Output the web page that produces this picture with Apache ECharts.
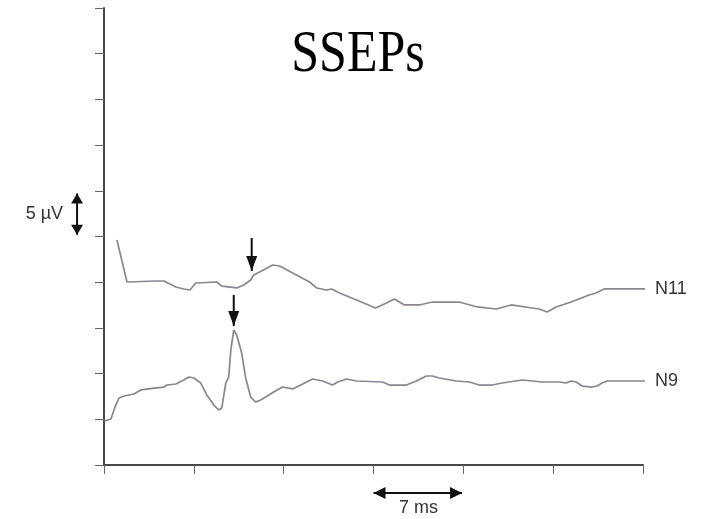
<!DOCTYPE html>
<html><head><meta charset="utf-8">
<script src="https://cdn.jsdelivr.net/npm/echarts@6/dist/echarts.min.js"></script>
<style>html,body{margin:0;padding:0;background:#fff}#c{width:706px;height:519px}</style>
</head><body><div id="c"></div>
<script>
const chartTitle = 'SSEPs';
const seriesNames = ['N11', 'N9'];
const xTickStep = 7;   // ms per tick
const yTickStep = 5;   // µV per tick
const xMax = 42;
const yMax = 50;

// N11 trace [ms, µV]
const n11 = [
  [1.01,24.62],[1.79,20.02],[4.04,20.13],[4.67,20.13],[5.60,19.48],[6.22,19.26],[6.69,19.15],
  [7.16,19.91],[8.79,20.02],[9.18,19.58],[10.34,19.37],[10.89,19.69],[11.43,20.24],[11.67,20.79],
  [12.13,21.12],[13.14,21.88],[13.69,21.77],[14.70,21.01],[16.02,20.02],[16.57,19.37],[17.34,19.15],
  [17.73,19.26],[18.36,18.82],[19.68,18.05],[21.16,17.18],[22.01,17.72],[22.63,18.16],[23.41,17.51],
  [24.58,17.51],[25.59,17.83],[27.69,17.83],[29.09,17.29],[30.57,17.07],[31.73,17.51],[33.37,17.18],
  [33.91,17.07],[34.53,16.74],[35.23,17.29],[36.40,17.83],[37.80,18.60],[38.34,18.82],[38.97,19.26],
  [42.31,19.26]
];
// N9 trace [ms, µV]
const n9 = [
  [0.04,4.82],[0.54,5.03],[0.86,6.35],[1.17,7.33],[1.56,7.55],[2.33,7.77],[2.88,8.21],[3.89,8.42],
  [4.67,8.53],[4.90,8.75],[5.60,8.86],[6.22,9.30],[6.61,9.63],[7.00,9.52],[7.54,8.97],[8.01,7.66],
  [8.56,6.56],[8.94,6.02],[9.18,6.24],[9.49,8.97],[9.72,9.63],[9.88,12.58],[10.11,14.77],[10.34,14.22],
  [10.73,12.25],[11.04,9.52],[11.43,7.44],[11.82,6.89],[12.21,7.11],[13.22,7.99],[13.92,8.53],
  [14.70,8.32],[15.48,8.86],[16.26,9.41],[17.03,9.19],[17.81,8.75],[18.20,9.08],[18.90,9.41],
  [19.68,9.19],[21.70,9.08],[22.24,8.75],[23.57,8.75],[24.34,9.19],[25.12,9.74],[25.59,9.74],
  [26.13,9.52],[27.46,9.19],[28.47,9.08],[29.24,8.75],[30.26,8.75],[31.03,8.97],[32.59,9.30],
  [33.37,9.19],[34.14,9.08],[35.47,9.08],[36.01,8.97],[36.40,9.19],[36.79,9.08],[37.26,8.64],
  [38.03,8.53],[38.42,8.64],[38.81,8.97],[39.20,9.19],[42.31,9.19]
];
// peak markers [ms, from µV, to µV]
const peakArrows = [[11.51, 24.84, 21.23], [10.11, 18.6, 15.21]];
const scaleLabels = ['5 µV', '7 ms'];

const chart = echarts.init(document.getElementById('c'), null, {renderer: 'canvas'});
const axisCommon = {
  type: 'value',
  axisLine: {show: true, onZero: false, lineStyle: {color: '#484848', width: 2}},
  axisTick: {show: true, length: 9, lineStyle: {color: '#666', width: 1}},
  axisLabel: {show: false},
  splitLine: {show: false}
};
const lineCommon = {
  type: 'line', showSymbol: false, clip: false, animation: false,
  lineStyle: {color: '#8a8590', width: 1.7},
  endLabel: {show: true, formatter: '{a}', distance: 10, fontSize: 18,
    fontFamily: 'Liberation Sans', color: '#333'}
};
chart.setOption({
  animation: false,
  grid: {left: 104, right: 63, top: 8, bottom: 54},
  xAxis: Object.assign({}, axisCommon, {min: 0, max: xMax, interval: xTickStep}),
  yAxis: Object.assign({}, axisCommon, {min: 0, max: yMax, interval: yTickStep}),
  series: [
    Object.assign({}, lineCommon, {name: seriesNames[0], data: n11}),
    Object.assign({}, lineCommon, {name: seriesNames[1], data: n9})
  ]
});

const P = (x, y) => chart.convertToPixel({gridIndex: 0}, [x, y]);
function head(tip, from, len, w) {
  const dx = tip[0] - from[0], dy = tip[1] - from[1];
  const L = Math.hypot(dx, dy), ux = dx / L, uy = dy / L;
  const bx = tip[0] - ux * len, by = tip[1] - uy * len;
  return {type: 'polygon', shape: {points: [tip, [bx - uy * w / 2, by + ux * w / 2], [bx + uy * w / 2, by - ux * w / 2]]},
    style: {fill: '#111'}, silent: true};
}
function arrow(a, b, len, w, both) {
  const els = [{type: 'line', shape: {x1: a[0], y1: a[1], x2: b[0], y2: b[1]}, style: {stroke: '#111', lineWidth: 2}, silent: true}];
  els.push(head(b, a, len, w));
  if (both) els.push(head(a, b, len, w));
  return els;
}
let g = [];
peakArrows.forEach(p => { g = g.concat(arrow(P(p[0], p[1]), P(p[0], p[2]), 15, 11, false)); });
const v1 = P(-2.1, 29.7), v2 = P(-2.1, 25.2);
g = g.concat(arrow(v1, v2, 10, 12, true));
const h1 = P(21.0, -3.06), h2 = P(27.9, -3.06);
g = g.concat(arrow(h1, h2, 12, 12, true));
g.push({type: 'text', x: v1[0] - 14, y: (v1[1] + v2[1]) / 2,
  style: {text: scaleLabels[0], font: '18px "Liberation Sans"', fill: '#333', textAlign: 'right', textVerticalAlign: 'middle'}});
const t7 = P(24.5, -4.7);
g.push({type: 'text', x: t7[0], y: t7[1],
  style: {text: scaleLabels[1], font: '18px "Liberation Sans"', fill: '#333', textAlign: 'center', textVerticalAlign: 'middle'}});
g.push({type: 'text', x: 358, y: 55, scaleY: 1.2,
  style: {text: chartTitle, font: '50px "Liberation Serif"', fill: '#000', textAlign: 'center', textVerticalAlign: 'middle'}});
chart.setOption({graphic: g});
</script></body></html>
